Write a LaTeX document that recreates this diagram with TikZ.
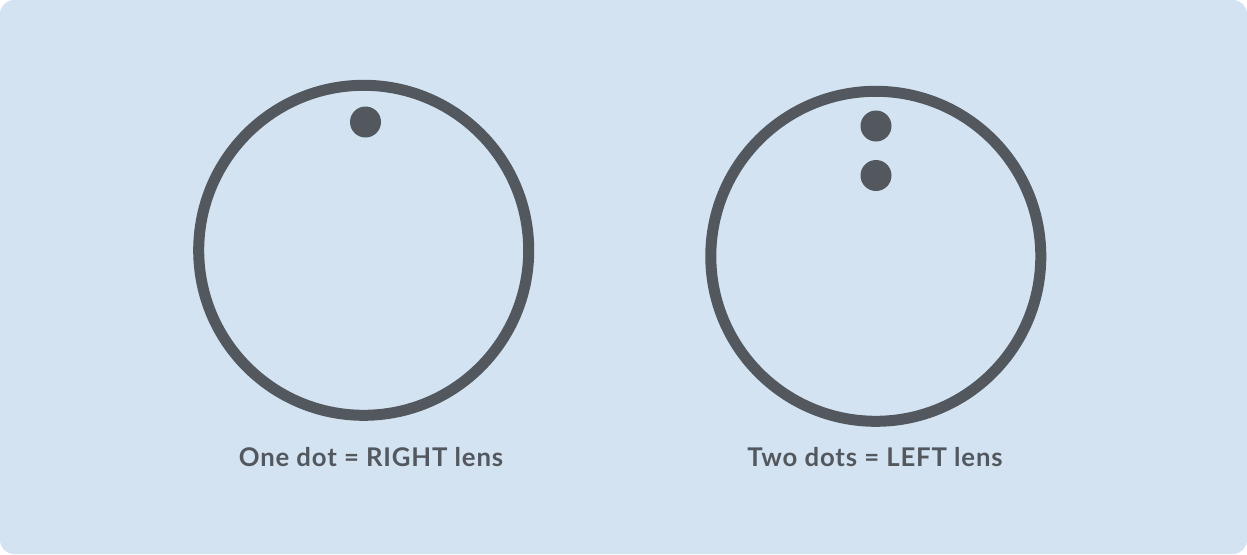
\documentclass[tikz,border=0pt]{standalone}
\usepackage{fontspec}
\setmainfont{Lato}
\newfontfamily\labelfont{Lato}[LetterSpace=3.3]
\definecolor{bgblue}{HTML}{D3E3F1}
\definecolor{ringgray}{HTML}{53585F}
\tikzset{
  ring/.style={draw=ringgray,line width=8.25pt},
  lenslabel/.style={text=ringgray,anchor=base,inner sep=0pt,
    font=\labelfont\bfseries\fontsize{19.3}{23}\selectfont}
}
\begin{document}
\begin{tikzpicture}[x=0.75pt,y=-0.75pt]
\fill[bgblue,rounded corners=10.5pt] (0,0) rectangle (1247,554);

% right lens: one dot
\draw[ring] (363.7,250.3) circle (165);
\fill[ringgray] (365.5,122) circle (15.5);

% left lens: two dots
\draw[ring] (875.8,256.3) circle (165);
\foreach \y in {126,175.5}
  \fill[ringgray] (876,\y) circle (15.5);

\node[lenslabel] (onedot) at (371,466.7) {One dot = RIGHT lens};
\node[lenslabel] (twodots) at (875,466.7) {Two dots = LEFT lens};
\end{tikzpicture}
\end{document}
